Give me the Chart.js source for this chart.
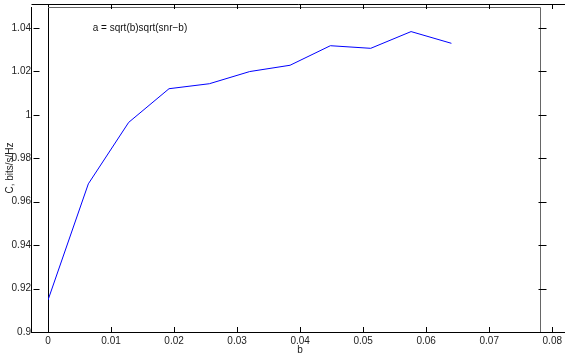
<!DOCTYPE html>
<html>
<head>
<meta charset="utf-8">
<script src="https://cdn.jsdelivr.net/npm/chart.js@4/dist/chart.umd.min.js"></script>
<style>
  html, body { margin: 0; padding: 0; background: #fff; }
  #wrap { width: 565px; height: 356px; }
</style>
</head>
<body>
<div id="wrap"><canvas id="capChart" width="565" height="356"></canvas></div>
<script>
// Data
const bValues = [0, 0.0064, 0.0128, 0.0192, 0.0256, 0.032, 0.0384, 0.0448, 0.0512, 0.0576, 0.064];
const capacity = [0.9147, 0.9682, 0.9965, 1.0120, 1.0143, 1.0199, 1.0228, 1.0318, 1.0306, 1.0383, 1.0329];
const xTicks = [0, 0.01, 0.02, 0.03, 0.04, 0.05, 0.06, 0.07, 0.08];
const yTicks = [0.9, 0.92, 0.94, 0.96, 0.98, 1, 1.02, 1.04];
const noteText = 'a = sqrt(b)sqrt(snr\u2212b)';

const FONT = { family: 'Liberation Sans, Arial, Helvetica, sans-serif', size: 10 };

function fmt(v) {
    return String(parseFloat(v.toFixed(2)));
}

// Draws the old-style double frame, inward ticks and the note
const framePlugin = {
    id: 'frame',
    afterDraw(chart) {
        const ctx = chart.ctx;
        const a = chart.chartArea;
        const xs = chart.scales.x;
        const ys = chart.scales.y;
        const outerLeft = Math.round(a.left) - 16.5;
        const boxRight = Math.round(xs.getPixelForValue(0.078)) + 0.5;

        ctx.save();
        ctx.lineWidth = 1;
        ctx.strokeStyle = '#000';

        // outer axes lines
        ctx.beginPath();
        ctx.moveTo(outerLeft, a.top + 3);
        ctx.lineTo(outerLeft, a.bottom + 1);
        ctx.moveTo(outerLeft, a.top + 0.5);
        ctx.lineTo(chart.width, a.top + 0.5);
        ctx.moveTo(outerLeft, a.bottom + 0.5);
        ctx.lineTo(chart.width, a.bottom + 0.5);
        ctx.stroke();

        // inner box
        ctx.strokeStyle = '#666';
        ctx.beginPath();
        ctx.moveTo(a.left, a.top + 3.5);
        ctx.lineTo(boxRight, a.top + 3.5);
        ctx.lineTo(boxRight, a.bottom);
        ctx.stroke();

        ctx.strokeStyle = '#000';
        ctx.beginPath();
        // x ticks, inward on bottom and top
        xTicks.forEach(v => {
            if (v === 0) return;
            const px = Math.round(xs.getPixelForValue(v)) + 0.5;
            ctx.moveTo(px, a.bottom);
            ctx.lineTo(px, a.bottom - 5);
            ctx.moveTo(px, a.top);
            ctx.lineTo(px, a.top + 5);
        });
        // y ticks on the outer left line and on the right side
        yTicks.forEach(v => {
            const py = Math.round(ys.getPixelForValue(v)) + 0.5;
            ctx.moveTo(outerLeft + 2, py);
            ctx.lineTo(outerLeft + 8, py);
            ctx.moveTo(boxRight - 2, py);
            ctx.lineTo(boxRight + 6, py);
        });
        ctx.stroke();

        // annotation text
        ctx.fillStyle = '#111';
        ctx.font = FONT.size + 'px ' + FONT.family;
        ctx.textAlign = 'left';
        ctx.textBaseline = 'middle';
        ctx.fillText(noteText, xs.getPixelForValue(0.0071), ys.getPixelForValue(1.04));
        ctx.restore();
    }
};

new Chart(document.getElementById('capChart'), {
    type: 'line',
    data: {
        datasets: [{
            data: bValues.map((b, i) => ({ x: b, y: capacity[i] })),
            borderColor: '#0000ff',
            borderWidth: 1,
            pointRadius: 0,
            tension: 0,
            fill: false
        }]
    },
    options: {
        responsive: false,
        animation: false,
        devicePixelRatio: 1,
        layout: { padding: { top: 4, right: 12, left: 0, bottom: 0 } },
        plugins: {
            legend: { display: false },
            tooltip: { enabled: false }
        },
        scales: {
            x: {
                type: 'linear',
                min: 0,
                max: 0.08,
                afterBuildTicks: scale => { scale.ticks = xTicks.map(v => ({ value: v })); },
                afterFit: scale => { scale.height = 24; scale.paddingTop = 0; },
                grid: { display: false, drawTicks: false },
                border: { display: true, color: '#000', width: 1 },
                ticks: {
                    color: '#222',
                    font: FONT,
                    padding: 3,
                    maxRotation: 0,
                    autoSkip: false,
                    callback: v => fmt(v)
                },
                title: {
                    display: true,
                    text: 'b',
                    color: '#222',
                    font: FONT,
                    padding: { top: -3, bottom: 0 }
                }
            },
            y: {
                min: 0.9,
                max: 1.051,
                afterBuildTicks: scale => { scale.ticks = yTicks.map(v => ({ value: v })); },
                afterFit: scale => {
                    scale.width = 48;
                    scale.paddingTop = 0;
                    scale.paddingBottom = 0;
                },
                grid: {
                    display: false,
                    drawTicks: false
                },
                border: { display: true, color: '#000', width: 1 },
                ticks: {
                    color: '#222',
                    font: FONT,
                    padding: 17,
                    callback: v => fmt(v)
                },
                title: {
                    display: true,
                    text: 'C, bits/s/Hz',
                    color: '#222',
                    font: FONT,
                    padding: { top: 4, bottom: 0 }
                }
            }
        }
    },
    plugins: [framePlugin]
});
</script>
</body>
</html>
